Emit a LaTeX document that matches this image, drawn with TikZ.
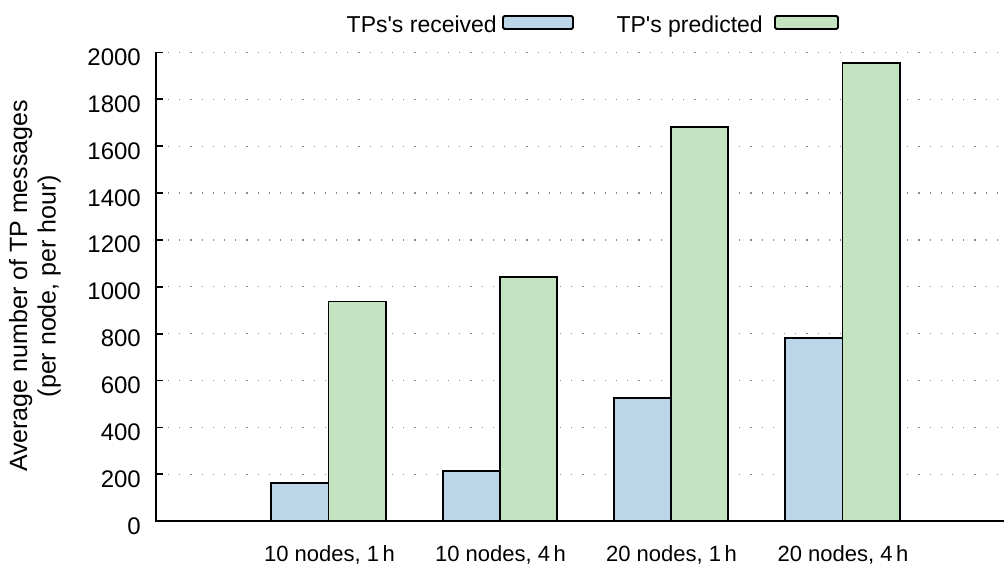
\documentclass[tikz,border=0pt]{standalone}
\usepackage{fontspec}
\setmainfont{Liberation Sans}[Ligatures=TeXOff]
\definecolor{barblue}{RGB}{188,214,233}
\definecolor{bargreen}{RGB}{196,227,193}
\definecolor{griddot}{RGB}{140,140,140}
\tikzset{
  axisline/.style={line width=1.8pt, black},
  gridline/.style={griddot, line width=1.3pt, dash pattern=on 1.2pt off 10pt},
  barbox/.style={draw=black, line width=1.8pt},
  ticklab/.style={anchor=base east, inner sep=0pt, font=\fontsize{24}{28}\selectfont},
  xlab/.style={anchor=base, inner sep=0pt, font=\fontsize{22}{26}\selectfont},
  leglab/.style={anchor=base east, inner sep=0pt, font=\fontsize{23}{27}\selectfont},
  legbox/.style={draw=black, line width=1.8pt, rounded corners=1.5pt},
}
\begin{document}
\begin{tikzpicture}[x=1pt,y=1pt]
\useasboundingbox (0,0) rectangle (1004,565);
% axis 0 at y=43.8, 1 value unit = 0.234375pt
\begin{scope}[shift={(0,43.8)}, y=0.234375pt]
  \foreach \v in {0,200,...,2000} {
    \draw[gridline] (168,\v) -- (1004,\v);
    \draw[axisline] (156,\v) -- (163,\v);
    \node[ticklab, yshift=-13pt] (t\v) at (141,\v) {\v};
  }
  % bars
  \foreach \c/\b/\g [count=\i] in {328.5/162/937, 500/214/1043, 671/524/1683, 842.5/783/1954} {
    \draw[barbox, fill=barblue] (\c-57.2,0) rectangle (\c,\b);
    \draw[barbox, fill=bargreen] (\c,0) rectangle (\c+57.2,\g);
  }
  \draw[axisline, line cap=rect] (156,2000) -- (156,0) -- (1004,0);
\end{scope}
% x labels
\node[xlab] (x1) at (329.5,4) {10 nodes, 1\,h};
\node[xlab] (x2) at (500.5,4) {10 nodes, 4\,h};
\node[xlab] (x3) at (671.5,4) {20 nodes, 1\,h};
\node[xlab] (x4) at (843,4) {20 nodes, 4\,h};
% y label
\node[rotate=90, align=center, inner sep=0pt, font=\fontsize{25}{28.5}\selectfont] (ylab) at (35,279) {Average number of TP messages\\(per node, per hour)};
% legend
\node[leglab] (l1) at (497,532) {TPs's received};
\draw[legbox, fill=barblue] (503,536) rectangle (573,549);
\node[leglab] (l2) at (763,532) {TP's predicted};
\draw[legbox, fill=bargreen] (775,536) rectangle (838,549);
\end{tikzpicture}
\end{document}
